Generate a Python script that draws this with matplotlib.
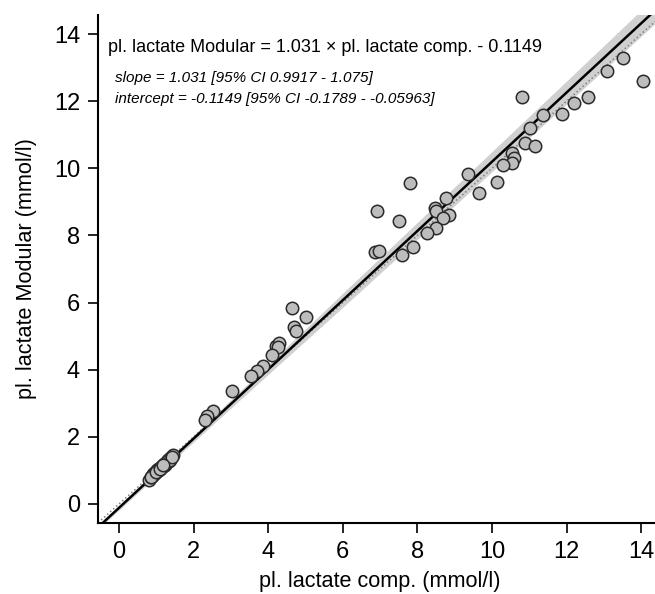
import numpy as np
import matplotlib
matplotlib.use("Agg")
import matplotlib.pyplot as plt

plt.rcParams['font.family'] = ['Liberation Sans', 'DejaVu Sans']

# measurements (mmol/l)
comp = [14.05, 13.51, 13.09, 12.58, 12.20, 11.88, 11.37, 11.02, 10.81, 10.89,
        11.16, 10.54, 10.59, 10.54, 10.30, 10.14, 9.65, 9.36, 7.80, 8.77,
        8.47, 8.50, 8.85, 8.69, 6.92, 7.51, 8.50, 8.26, 6.86, 6.97,
        7.88, 7.59,
        4.64, 5.01, 4.69, 4.75, 4.21, 4.29, 4.25, 4.10, 3.86, 3.70,
        3.54, 3.03, 2.52, 2.36, 2.31,
        0.80, 0.85, 0.88, 0.90, 0.92, 0.95, 0.97, 1.00, 1.02, 1.05,
        1.07, 1.10, 1.12, 1.15, 1.18, 1.20, 1.22, 1.25, 1.28, 1.30,
        1.33, 1.35, 1.38, 1.40, 1.45,
        0.93, 0.98, 1.03, 1.08, 1.13, 1.17, 1.21, 1.26, 1.31, 1.36,
        1.42, 0.87, 1.00, 1.10, 1.19]
modular = [12.60, 13.29, 12.90, 12.12, 11.95, 11.62, 11.59, 11.20, 12.12, 10.75,
           10.66, 10.46, 10.31, 10.16, 10.10, 9.59, 9.26, 9.83, 9.56, 9.12,
           8.82, 8.73, 8.61, 8.52, 8.73, 8.43, 8.22, 8.07, 7.51, 7.54,
           7.66, 7.42,
           5.84, 5.57, 5.27, 5.15, 4.71, 4.80, 4.68, 4.44, 4.11, 3.96,
           3.81, 3.37, 2.77, 2.62, 2.50,
           0.72, 0.80, 0.82, 0.88, 0.86, 0.93, 0.92, 0.98, 0.97, 1.03,
           1.02, 1.08, 1.06, 1.12, 1.14, 1.18, 1.16, 1.23, 1.24, 1.29,
           1.28, 1.34, 1.33, 1.40, 1.46,
           0.88, 0.95, 1.00, 1.05, 1.10, 1.13, 1.20, 1.22, 1.30, 1.32,
           1.40, 0.80, 0.96, 1.04, 1.15]

slope = 1.031
intercept = -0.1149

# confidence band of the fitted line
ci_x = [-0.56, 2, 4, 6, 8, 10, 12, 14.56]
ci_lo = [-0.75, 1.85, 3.86, 5.86, 7.88, 9.90, 11.92, 14.50]
ci_hi = [-0.63, 2.05, 4.16, 6.28, 8.39, 10.50, 12.60, 15.30]

lims = (-0.56, 14.56)
ticks = [0, 2, 4, 6, 8, 10, 12, 14]

fig = plt.figure(figsize=(6.55, 5.94), dpi=100)
ax = fig.add_axes([0.1498, 0.1199, 0.861, 0.8545])

ax.fill_between(ci_x, ci_lo, ci_hi, color='#d0d0d0', lw=0, zorder=1)
xx = np.array(lims)
ax.plot(xx, xx, color='#808080', ls=':', lw=1.1, zorder=2)
ax.plot(xx, slope * xx + intercept, color='black', lw=1.8, zorder=3)
ax.scatter(comp, modular, s=80, facecolor='#bdbdbd', edgecolor='#2a2a2a',
           linewidths=1.1, zorder=4)

ax.set_xlim(lims)
ax.set_ylim(lims)
ax.set_xticks(ticks)
ax.set_yticks(ticks)
ax.tick_params(labelsize=17, length=7, width=1.2, pad=6)
for s in ['top', 'right']:
    ax.spines[s].set_visible(False)
for s in ['left', 'bottom']:
    ax.spines[s].set_linewidth(1.5)

ax.set_xlabel('pl. lactate comp. (mmol/l)', fontsize=15.6, labelpad=6)
ax.set_ylabel('pl. lactate Modular (mmol/l)', fontsize=15.6, labelpad=12)

ax.text(-0.29, 13.61, 'pl. lactate Modular = 1.031 \u00d7 pl. lactate comp. - 0.1149',
        fontsize=13, va='center', ha='left')
ax.text(-0.1, 12.7, 'slope = 1.031 [95% CI 0.9917 - 1.075]',
        fontsize=11, style='italic', va='center', ha='left')
ax.text(-0.1, 12.05, 'intercept = -0.1149 [95% CI -0.1789 - -0.05963]',
        fontsize=11, style='italic', va='center', ha='left')

fig.savefig('out.png', dpi=100)
